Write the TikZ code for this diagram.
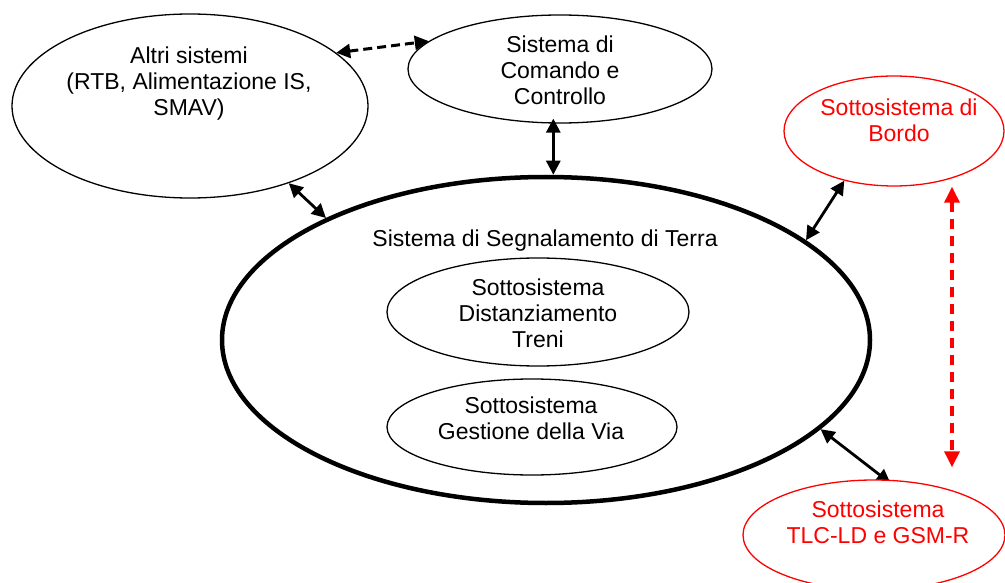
\documentclass[tikz,border=0pt]{standalone}
\usepackage{fontspec}
\setmainfont{Liberation Sans}
\usetikzlibrary{shapes.geometric,arrows.meta,calc,backgrounds}
\definecolor{sysred}{RGB}{255,0,0}
\begin{document}
\begin{tikzpicture}[x=1pt,y=-1pt,
  sysell/.style={draw,ellipse,inner sep=0pt,line width=1.3pt},
  mainell/.style={draw,ellipse,inner sep=0pt,line width=4.5pt},
  redell/.style={draw=sysred,ellipse,inner sep=0pt,line width=1.3pt},
  lbl/.style={font=\fontsize{23}{26}\selectfont,align=center,inner sep=0pt},
  link/.style={line width=2.8pt,{Triangle[length=14pt,width=14pt]}-{Triangle[length=14pt,width=14pt]}},
  dlink/.style={link,line width=3pt,dash pattern=on 9pt off 5pt},
  redlink/.style={draw=sysred,line width=3.2pt,dash pattern=on 10pt off 7pt,
    {Triangle[length=16pt,width=15pt]}-{Triangle[length=16pt,width=15pt]}}]
\useasboundingbox (0,0) rectangle (1005,583);

% ellipses
\node[sysell,minimum width=356pt,minimum height=184pt] (altri) at (190,106) {};
\node[sysell,minimum width=304pt,minimum height=108pt] (cmd) at (560,69) {};
\node[redell,minimum width=220pt,minimum height=110pt] (bordo) at (894,131) {};
\node[mainell,minimum width=648pt,minimum height=326pt] (big) at (546,340) {};
\node[sysell,minimum width=302pt,minimum height=108pt] (dist) at (538,312) {};
\node[sysell,minimum width=290pt,minimum height=96pt] (via) at (532,427) {};
\node[redell,fill=white,minimum width=262pt,minimum height=110pt] (tlc) at (874,535) {};

% labels
\node[lbl] (altriT) at (189,84) {Altri sistemi\\(RTB, Alimentazione IS,\\SMAV)};
\node[lbl] (cmdT) at (560,70) {Sistema di\\Comando e\\Controllo};
\node[lbl,text=sysred] (bordoT) at (899,120) {Sottosistema di\\Bordo};
\node[lbl] (bigT) at (545,241) {Sistema di Segnalamento di Terra};
\node[lbl] (distT) at (538,313) {Sottosistema\\Distanziamento\\Treni};
\node[lbl] (viaT) at (531,418) {Sottosistema\\Gestione della Via};
\node[lbl,text=sysred] (tlcT) at (878,522) {Sottosistema\\TLC-LD e GSM-R};

% connectors
\begin{scope}[on background layer]
  \draw[dlink] (altri.20) -- (cmd.168);
  \draw[link,shorten <=-5pt] (cmd.263) -- (cmd.263 |- big.north);
  \draw[link] (altri.322) -- (big.151);
  \draw[link] (bordo.225) -- (big.21);
  \draw[link,shorten >=-6pt] (big.342.6) -- (tlc.78);
  \draw[redlink] ($(bordo.south)+(58,0)$) -- ($(tlc.north)+(78,-12)$);
\end{scope}
\end{tikzpicture}
\end{document}
